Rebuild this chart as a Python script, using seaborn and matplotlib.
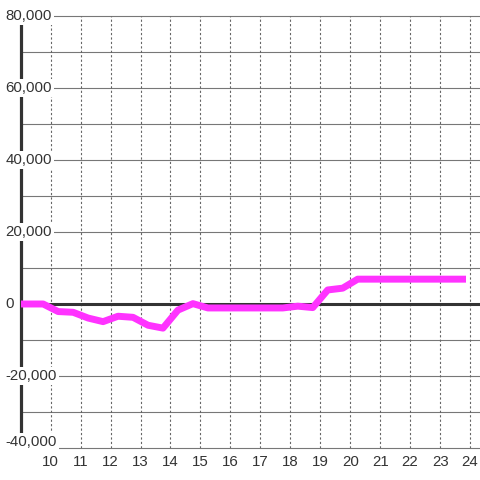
import matplotlib
matplotlib.use("Agg")
import matplotlib.pyplot as plt
import seaborn as sns
import pandas as pd

# ---- data ----
hours = [9.0, 9.75, 10.25, 10.75, 11.25, 11.75, 12.25, 12.75, 13.25, 13.75,
         14.25, 14.75, 15.25, 15.75, 16.25, 16.75, 17.25, 17.75, 18.25, 18.75,
         19.25, 19.75, 20.25, 20.75, 21.25, 21.75, 22.25, 22.75, 23.25, 23.75]
values = [0, 0, -2100, -2300, -3900, -4900, -3400, -3700, -5900, -6700,
          -1700, 100, -1100, -1100, -1100, -1100, -1100, -1100, -600, -1000,
          3900, 4400, 6900, 6900, 6900, 6900, 6900, 6900, 6900, 6900]
x_ticks = list(range(10, 25))
x_tick_labels = [str(t) for t in x_ticks]
y_ticks = [80000, 60000, 40000, 20000, 0, -20000, -40000]
y_tick_labels = ["80,000", "60,000", "40,000", "20,000", "0", "-20,000", "-40,000"]
y_grid = list(range(-40000, 80001, 10000))

sns.set_style("white")
plt.rcParams["font.family"] = ["Liberation Sans", "DejaVu Sans"]

df = pd.DataFrame({"hour": hours, "value": values})

fig = plt.figure(figsize=(4.8, 4.8), dpi=100)
ax = fig.add_axes([20.7 / 480, 32 / 480, (480 - 20.7) / 480, 432 / 480])
ax.set_facecolor("white")

ax.set_xlim(9.0, 24.333)
ax.set_ylim(-40000, 80000)

# grid lines
for g in y_grid:
    if g == 0:
        continue
    ax.axhline(g, color="#777777", lw=0.8, zorder=1, clip_on=False)
for t in x_ticks:
    ax.axvline(t, color="#666666", lw=0.8, ls=(0, (2, 2)), zorder=1.5)
ax.axhline(0, color="#333333", lw=2.2, zorder=2)

sns.lineplot(data=df, x="hour", y="value", color="#ff33ff", lw=5,
             ax=ax, zorder=3, solid_capstyle="projecting")

for s in ["top", "right", "bottom"]:
    ax.spines[s].set_visible(False)
ax.spines["left"].set_color("#333333")
ax.spines["left"].set_linewidth(2.3)
ax.spines["left"].set_zorder(2.5)

ax.set_xticks(x_ticks)
ax.set_xticklabels(x_tick_labels)
ax.tick_params(axis="x", length=0, pad=5, labelsize=10.8, labelcolor="#333333")
ax.set_yticks([])
ax.set_xlabel("")
ax.set_ylabel("")

ytrans = ax.get_yaxis_transform()
xpos = (5.5 - 20.7) / (480 - 20.7)
for v, lab in zip(y_ticks, y_tick_labels):
    off = 6 if v == -40000 else 0
    ax.annotate(lab, xy=(xpos, v), xycoords=ytrans, xytext=(0, off),
                textcoords="offset pixels", ha="left", va="center",
                fontsize=10.8, color="#333333", zorder=5, annotation_clip=False,
                bbox=dict(boxstyle="square,pad=0.12", fc="white", ec="none"))

fig.savefig("out.png", dpi=100, facecolor="white")
